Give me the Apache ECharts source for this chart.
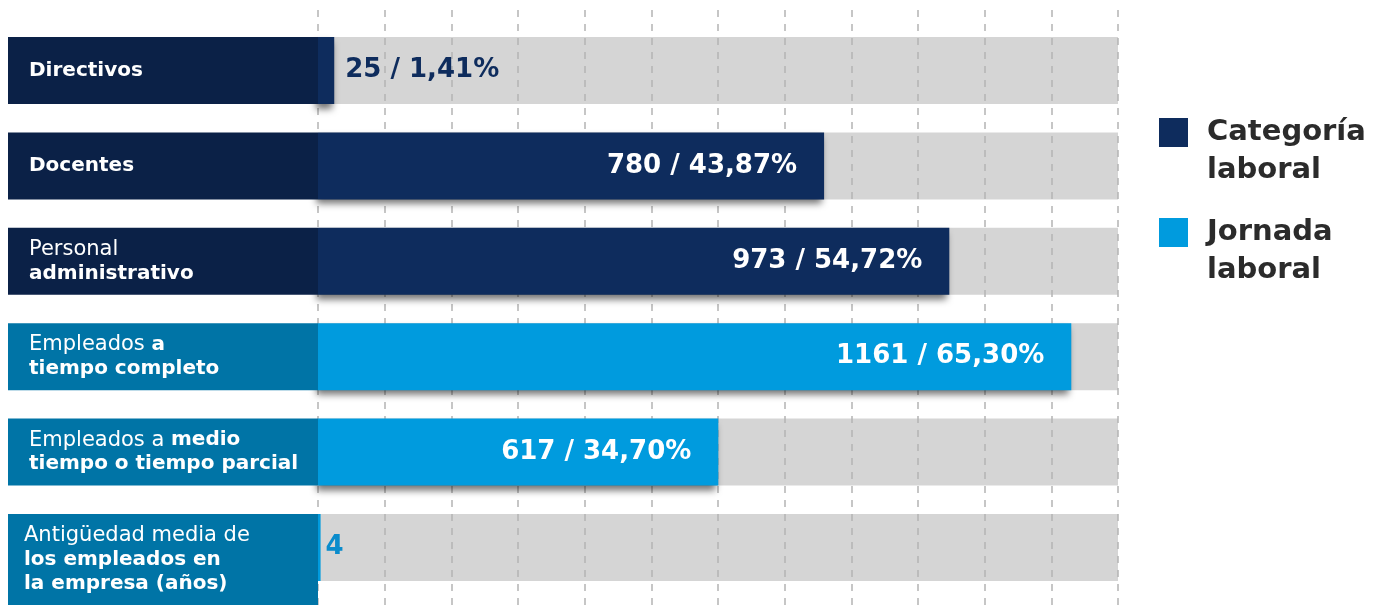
<!DOCTYPE html>
<html>
<head>
<meta charset="utf-8">
<script src="https://cdn.jsdelivr.net/npm/echarts@6/dist/echarts.min.js"></script>
<style>
html, body { margin: 0; padding: 0; background: #fff; }
#main { width: 1385px; height: 605px; }
</style>
</head>
<body>
<div id="main"></div>
<script>
// categories (rich markup: {b|...} = bold)
var etiquetas = [
    '{b|Directivos}',
    '{b|Docentes}',
    'Personal\n{b|administrativo}',
    'Empleados {b|a}\n{b|tiempo completo}',
    'Empleados a {b|medio}\n{b|tiempo o tiempo parcial}',
    'Antigüedad media de\n{b|los empleados en}\n{b|la empresa (años)}'
];
var valores = [25, 780, 973, 1161, 617, 4];
var porcentajes = ['1,41%', '43,87%', '54,72%', '65,30%', '34,70%', ''];
var grupos = ['Categoría laboral', 'Categoría laboral', 'Categoría laboral',
              'Jornada laboral', 'Jornada laboral', 'Jornada laboral'];
var nombresSerie = ['Categoría laboral', 'Jornada laboral'];
var escalaMax = 1233;
var divisiones = 12;

var colorBarra = { 'Categoría laboral': '#0e2c5d', 'Jornada laboral': '#009bde' };
var colorCaja = { 'Categoría laboral': '#0b2147', 'Jornada laboral': '#0074a6' };

var myChart = echarts.init(document.getElementById('main'));

var sombra = {
    shadowColor: 'rgba(0,0,0,0.55)',
    shadowBlur: 7,
    shadowOffsetX: -2,
    shadowOffsetY: 5
};

function etiquetaValor(i) {
    if (porcentajes[i] === '') return String(valores[i]);
    return valores[i] + ' / ' + porcentajes[i];
}

var seriesBarras = nombresSerie.map(function (nombre) {
    var data = valores.map(function (v, i) {
        if (grupos[i] !== nombre) return '-';
        var item = { value: v };
        if (i === 0) {
            item.label = { position: 'right', distance: 11, color: '#0e2c5d' };
        } else if (i === valores.length - 1) {
            item.label = { position: 'right', distance: 5, color: '#0a8ccc' };
            item.itemStyle = { shadowBlur: 0, shadowOffsetX: 0, shadowOffsetY: 0 };
        }
        return item;
    });
    return {
        name: nombre,
        type: 'bar',
        xAxisIndex: 1,
        yAxisIndex: 1,
        barWidth: 67,
        barGap: '-100%',
        z: 3,
        itemStyle: Object.assign({ color: colorBarra[nombre] }, sombra),
        label: {
            show: true,
            position: 'insideRight',
            distance: 27,
            color: '#fff',
            fontFamily: 'DejaVu Sans',
            fontWeight: 'bold',
            fontSize: 26,
            formatter: function (p) { return etiquetaValor(p.dataIndex); }
        },
        data: data
    };
});

var option = {
    animation: false,
    backgroundColor: '#fff',
    legend: {
        data: nombresSerie,
        orient: 'vertical',
        left: 1159,
        top: 80,
        padding: 0,
        icon: 'rect',
        itemWidth: 29,
        itemHeight: 29,
        itemGap: -5,
        // empty first line so the name starts level with the square
        formatter: function (name) {
            var partes = name.split(' ');
            return '{e|\u00a0}\n{a|' + partes[0] + '}\n{a|' + partes[1] + '}';
        },
        textStyle: {
            padding: [0, 0, 0, 14],
            rich: {
                e: { fontSize: 29, lineHeight: 38 },
                a: {
                    fontFamily: 'DejaVu Sans',
                    fontWeight: 'bold',
                    fontSize: 29,
                    lineHeight: 38,
                    color: '#2b2b2b'
                }
            }
        }
    },
    grid: [
        { left: 318, right: 267, top: 10, bottom: 0 },
        { left: 318, right: 267, top: 22.8, bottom: 9.8 }
    ],
    xAxis: [
        {
            gridIndex: 0, type: 'value', min: 0, max: divisiones, interval: 1, z: 1,
            axisLine: { show: false }, axisTick: { show: false }, axisLabel: { show: false },
            splitLine: { show: true, lineStyle: { color: '#b4b4b4', type: [7, 7], width: 1.5 } }
        },
        {
            gridIndex: 1, type: 'value', min: 0, max: escalaMax, show: false,
            splitLine: { show: false }
        }
    ],
    yAxis: [
        { gridIndex: 0, type: 'value', show: false, splitLine: { show: false } },
        {
            gridIndex: 1, type: 'category', inverse: true, show: false,
            data: etiquetas.map(function (e, i) { return i; })
        }
    ],
    series: [
        {
            name: 'fondo',
            type: 'bar',
            xAxisIndex: 1,
            yAxisIndex: 1,
            barWidth: 67,
            z: 0,
            silent: true,
            itemStyle: { color: '#d5d5d5' },
            data: valores.map(function () { return escalaMax; })
        }
    ].concat(seriesBarras).concat([
        {
            name: 'cajas',
            type: 'custom',
            xAxisIndex: 1,
            yAxisIndex: 1,
            z: 4,
            silent: true,
            clip: false,
            renderItem: function (params, api) {
                var i = api.value(1);
                var p = api.coord([0, i]);
                var h = 67;
                var top = p[1] - h / 2;
                if (i === etiquetas.length - 1) h = 91; // last box is taller
                return {
                    type: 'group',
                    children: [
                        {
                            type: 'rect',
                            shape: { x: p[0] - 310, y: top, width: 310, height: h },
                            style: { fill: colorCaja[grupos[i]] }
                        },
                        {
                            type: 'text',
                            style: {
                                x: p[0] - (i === etiquetas.length - 1 ? 294 : 289),
                                y: top + h / 2,
                                text: etiquetas[i],
                                verticalAlign: 'middle',
                                fill: '#fff',
                                fontFamily: 'DejaVu Sans',
                                fontSize: 21,
                                lineHeight: 24,
                                rich: {
                                    b: {
                                        fill: '#fff',
                                        fontFamily: 'DejaVu Sans',
                                        fontWeight: 'bold',
                                        fontSize: 20,
                                        lineHeight: 24
                                    }
                                }
                            }
                        }
                    ]
                };
            },
            data: etiquetas.map(function (e, i) { return [0, i]; })
        }
    ])
};

myChart.setOption(option);
</script>
</body>
</html>
